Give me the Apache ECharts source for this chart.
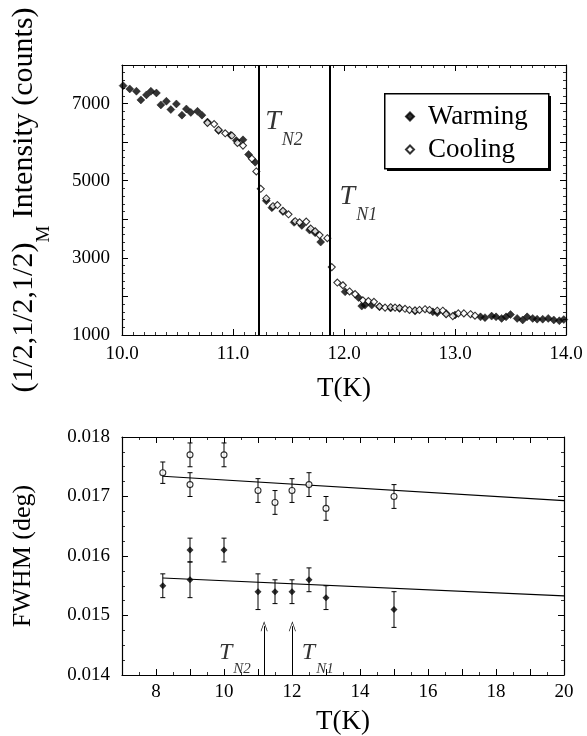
<!DOCTYPE html>
<html><head><meta charset="utf-8">
<script src="https://cdn.jsdelivr.net/npm/echarts@6/dist/echarts.min.js"></script>
<style>html,body{margin:0;padding:0;background:#fff}#c{width:587px;height:736px}</style>
</head><body><div id="c"></div>
<script>
// ---- Top panel: (1/2,1/2,1/2)_M intensity vs T ----
const warmT = [10.01,10.07,10.13,10.17,10.22,10.26,10.31,10.35,10.40,10.44,10.49,10.54,10.58,10.62,10.68,10.72,10.77,10.87,10.98,11.03,11.09,11.14,11.20,11.30,11.35,11.45,11.55,11.62,11.69,11.74,11.79,12.01,12.13,12.16,12.19,12.25,12.32,12.42,12.50,12.64,12.80,12.84,12.92,13.00,13.23,13.27,13.33,13.37,13.42,13.46,13.50,13.56,13.61,13.65,13.70,13.74,13.79,13.84,13.89,13.94,13.98];
const warmI = [7465,7380,7320,7095,7225,7320,7275,6965,7060,6845,6990,6700,6860,6770,6800,6700,6520,6300,6180,6040,6060,5680,5480,4480,4300,4200,3920,3840,3720,3650,3410,2120,1970,1750,1775,1775,1730,1700,1690,1620,1600,1580,1560,1520,1470,1450,1490,1470,1430,1470,1530,1430,1390,1470,1430,1410,1410,1430,1390,1370,1400];
const coolT = [10.77,10.83,10.87,10.93,10.99,11.04,11.09,11.17,11.21,11.25,11.30,11.36,11.40,11.45,11.50,11.56,11.60,11.66,11.70,11.74,11.78,11.85,11.89,11.94,11.99,12.05,12.10,12.17,12.22,12.27,12.32,12.37,12.42,12.46,12.50,12.55,12.59,12.64,12.68,12.73,12.77,12.84,12.89,12.92,12.98,13.03,13.08,13.14,13.18];
const coolI = [6500,6470,6320,6230,6170,5980,5910,5570,5240,4790,4540,4340,4370,4220,4130,3950,3920,3940,3760,3690,3590,3510,2760,2360,2290,2130,2060,1900,1880,1860,1740,1710,1720,1710,1700,1680,1650,1640,1650,1670,1650,1630,1630,1540,1490,1560,1560,1540,1500];
const transitionT = [11.23, 11.87];           // T_N2, T_N1 vertical lines
const topLabelNames = ['N2', 'N1'];
const topLabelT = [11.29, 11.96];
const topLabelI = [6900, 4960];

// ---- Bottom panel: FWHM vs T ----
const fwCoolT = [8.2, 9, 9, 10, 11, 11.5, 12, 12.5, 13, 15];
const fwCool  = [0.0174, 0.0177, 0.0172, 0.0177, 0.0171, 0.0169, 0.0171, 0.0172, 0.0168, 0.0170];
const fwCoolE = [0.00018, 0.0002, 0.0002, 0.0002, 0.0002, 0.0002, 0.0002, 0.0002, 0.0002, 0.0002];
const fwWarmT = [8.2, 9, 9, 10, 11, 11.5, 12, 12.5, 13, 15];
const fwWarm  = [0.0155, 0.0161, 0.0156, 0.0161, 0.0154, 0.0154, 0.0154, 0.0156, 0.0153, 0.0151];
const fwWarmE = [0.0002, 0.0002, 0.0003, 0.0002, 0.0003, 0.0002, 0.0002, 0.0002, 0.0002, 0.0003];
const fitT    = [8.2, 20];
const fitCool = [0.01734, 0.01693];
const fitWarm = [0.01563, 0.01533];
const arrowT  = [11.18, 12.01];
const arrowY  = [0.014, 0.01482];
const botLabelNames = ['N2', 'N1'];
const botLabelT = [9.85, 12.29];
const botLabelY = [0.01458, 0.01458];

const serif = '"Liberation Serif","Times New Roman",serif';
const BLACK = '#000';

function axis(extra) {
  return Object.assign({
    axisLine: {show: true, onZero: false, lineStyle: {color: BLACK, width: 1.2}},
    axisTick: {show: true, inside: true, length: 6, lineStyle: {color: BLACK, width: 1}},
    minorTick: {show: true, length: 3, lineStyle: {color: BLACK, width: 0.8}},
    splitLine: {show: false},
    axisLabel: {show: false},
  }, extra);
}
const labelStyle = {color: BLACK, fontFamily: serif, fontSize: 19};

const xAxes = [
  axis({type: 'value', gridIndex: 0, min: 10, max: 14, interval: 1, position: 'bottom',
    minorTick: {show: true, splitNumber: 10, length: 3, lineStyle: {color: BLACK, width: 0.8}},
    axisLabel: Object.assign({show: true, margin: 10, formatter: v => v.toFixed(1)}, labelStyle),
    name: 'T(K)', nameLocation: 'middle', nameGap: 40,
    nameTextStyle: {color: BLACK, fontFamily: serif, fontSize: 27}}),
  axis({type: 'value', gridIndex: 0, min: 10, max: 14, interval: 1, position: 'top',
    minorTick: {show: true, splitNumber: 10, length: 3, lineStyle: {color: BLACK, width: 0.8}}}),
  axis({type: 'value', gridIndex: 1, min: 7, max: 20, interval: 1, position: 'bottom',
    minorTick: {show: true, splitNumber: 2, length: 3, lineStyle: {color: BLACK, width: 0.8}},
    axisLabel: Object.assign({show: true, margin: 8, formatter: v => (v % 2 === 0 ? String(v) : '')}, labelStyle),
    name: 'T(K)', nameLocation: 'middle', nameGap: 33,
    nameTextStyle: {color: BLACK, fontFamily: serif, fontSize: 27}}),
  axis({type: 'value', gridIndex: 1, min: 7, max: 20, interval: 1, position: 'top',
    minorTick: {show: true, splitNumber: 2, length: 3, lineStyle: {color: BLACK, width: 0.8}}}),
];
const yAxes = [
  axis({type: 'value', gridIndex: 0, min: 1000, max: 8000, interval: 1000, position: 'left',
    minorTick: {show: true, splitNumber: 5, length: 3, lineStyle: {color: BLACK, width: 0.8}},
    axisLabel: Object.assign({show: true, margin: 12, formatter: v => ((v - 1000) % 2000 === 0 ? String(v) : '')}, labelStyle),
    name: '{a|(1/2,1/2,1/2)}{b|M}{a| Intensity (counts)}', nameLocation: 'middle', nameRotate: 90, nameGap: 68,
    nameTextStyle: {color: BLACK, fontFamily: serif, rich: {
      a: {fontSize: 30, fontFamily: serif, color: BLACK, verticalAlign: 'top'},
      b: {fontSize: 19, fontFamily: serif, color: BLACK, lineHeight: 45, verticalAlign: 'bottom'}}}}),
  axis({type: 'value', gridIndex: 0, min: 1000, max: 8000, interval: 1000, position: 'right',
    minorTick: {show: true, splitNumber: 5, length: 3, lineStyle: {color: BLACK, width: 0.8}}}),
  axis({type: 'value', gridIndex: 1, min: 0.014, max: 0.018, interval: 0.001, position: 'left',
    minorTick: {show: true, splitNumber: 4, length: 3, lineStyle: {color: BLACK, width: 0.8}},
    axisLabel: Object.assign({show: true, margin: 12, formatter: v => v.toFixed(3)}, labelStyle),
    name: 'FWHM (deg)', nameLocation: 'middle', nameRotate: 90, nameGap: 86,
    nameTextStyle: {color: BLACK, fontFamily: serif, fontSize: 26}}),
  axis({type: 'value', gridIndex: 1, min: 0.014, max: 0.018, interval: 0.001, position: 'right',
    minorTick: {show: true, splitNumber: 4, length: 3, lineStyle: {color: BLACK, width: 0.8}}}),
];

function errBars(ts, vs, es) {
  return {
    type: 'custom', xAxisIndex: 2, yAxisIndex: 2, silent: true, z: 2,
    data: ts.map((t, i) => [t, vs[i], es[i]]),
    encode: {x: 0, y: 1},
    renderItem: function (params, api) {
      const x = api.value(0), y = api.value(1), e = api.value(2);
      const lo = api.coord([x, y - e]), hi = api.coord([x, y + e]);
      const w = 2.5, st = {stroke: BLACK, lineWidth: 1};
      return {type: 'group', children: [
        {type: 'line', shape: {x1: lo[0], y1: lo[1], x2: hi[0], y2: hi[1]}, style: st},
        {type: 'line', shape: {x1: lo[0] - w, y1: lo[1], x2: lo[0] + w, y2: lo[1]}, style: st},
        {type: 'line', shape: {x1: hi[0] - w, y1: hi[1], x2: hi[0] + w, y2: hi[1]}, style: st}
      ]};
    }
  };
}

function tnLabels(ts, ys, names, xi, yi, big, small, lh) {
  return {
    type: 'scatter', xAxisIndex: xi, yAxisIndex: yi, symbolSize: 0, silent: true, z: 5,
    data: ts.map((t, i) => ({value: [t, ys[i]], name: names[i]})),
    label: {show: true, position: [0, 0], align: 'left', verticalAlign: 'top',
      formatter: p => '{t|T}{s|' + p.name + '}',
      rich: {
        t: {fontFamily: serif, fontStyle: 'italic', fontSize: big, color: BLACK, verticalAlign: 'top'},
        s: {fontFamily: serif, fontStyle: 'italic', fontSize: small, color: BLACK, lineHeight: lh, verticalAlign: 'bottom', padding: [0, 0, 0, 1]}
      }}
  };
}

const chevron = 'path://M5,0 L10,10 L9,10 L5,1.8 L1,10 L0,10 Z';

const option = {
  animation: false,
  backgroundColor: '#fff',
  grid: [
    {left: 122, right: 21, top: 65, height: 270},
    {left: 122, right: 23, top: 437, height: 240}
  ],
  graphic: [
    {type: 'rect', left: 387, top: 96, z: 10, shape: {width: 164, height: 75}, style: {fill: BLACK}},
    {type: 'rect', left: 384, top: 93, z: 11, shape: {width: 164, height: 75}, style: {fill: '#fff', stroke: BLACK, lineWidth: 1.5}}
  ],
  xAxis: xAxes,
  yAxis: yAxes,
  legend: {
    left: 384, top: 93, orient: 'vertical', z: 12,
    data: [{name: 'Warming', icon: 'diamond'}, {name: 'Cooling', icon: 'diamond'}],
    itemWidth: 8, itemHeight: 8, itemGap: 6,
    padding: [10, 19, 5, 21],
    textStyle: {fontFamily: serif, fontSize: 27, color: BLACK, padding: [0, 0, 0, 9]}
  },
  series: [
    {name: 'Warming', type: 'scatter', xAxisIndex: 0, yAxisIndex: 0, symbol: 'diamond', symbolSize: 8,
      itemStyle: {color: BLACK, borderColor: BLACK, borderWidth: 0.5}, z: 3,
      data: warmT.map((t, i) => [t, warmI[i]]),
      markLine: {silent: true, symbol: 'none', label: {show: false},
        lineStyle: {color: BLACK, width: 2, type: 'solid'},
        data: transitionT.map(t => ({xAxis: t}))}},
    {name: 'Cooling', type: 'scatter', xAxisIndex: 0, yAxisIndex: 0, symbol: 'diamond', symbolSize: 7,
      itemStyle: {color: '#fff', borderColor: BLACK, borderWidth: 1.1}, z: 4,
      data: coolT.map((t, i) => [t, coolI[i]])},
    tnLabels(topLabelT, topLabelI, topLabelNames, 0, 0, 28, 18, 42),

    errBars(fwCoolT, fwCool, fwCoolE),
    errBars(fwWarmT, fwWarm, fwWarmE),
    {name: 'fitCool', type: 'line', xAxisIndex: 2, yAxisIndex: 2, symbol: 'none', silent: true,
      lineStyle: {color: BLACK, width: 1.2}, data: fitT.map((t, i) => [t, fitCool[i]])},
    {name: 'fitWarm', type: 'line', xAxisIndex: 2, yAxisIndex: 2, symbol: 'none', silent: true,
      lineStyle: {color: BLACK, width: 1.2}, data: fitT.map((t, i) => [t, fitWarm[i]]),
      markLine: {silent: true, symbol: ['none', chevron], symbolSize: [7, 10], label: {show: false},
        lineStyle: {color: BLACK, width: 1, type: 'solid'},
        data: arrowT.map(t => [{coord: [t, arrowY[0]]}, {coord: [t, arrowY[1]]}])}},
    {name: 'FWHM cooling', type: 'scatter', xAxisIndex: 2, yAxisIndex: 2, symbol: 'circle', symbolSize: 6,
      itemStyle: {color: '#fff', borderColor: BLACK, borderWidth: 1.1}, z: 4,
      data: fwCoolT.map((t, i) => [t, fwCool[i]])},
    {name: 'FWHM warming', type: 'scatter', xAxisIndex: 2, yAxisIndex: 2, symbol: 'diamond', symbolSize: 7,
      itemStyle: {color: BLACK}, z: 4,
      data: fwWarmT.map((t, i) => [t, fwWarm[i]])},
    tnLabels(botLabelT, botLabelY, botLabelNames, 2, 2, 24, 15, 36)
  ]
};

const chart = echarts.init(document.getElementById('c'), null, {renderer: 'canvas'});
chart.setOption(option);
</script>
</body></html>
